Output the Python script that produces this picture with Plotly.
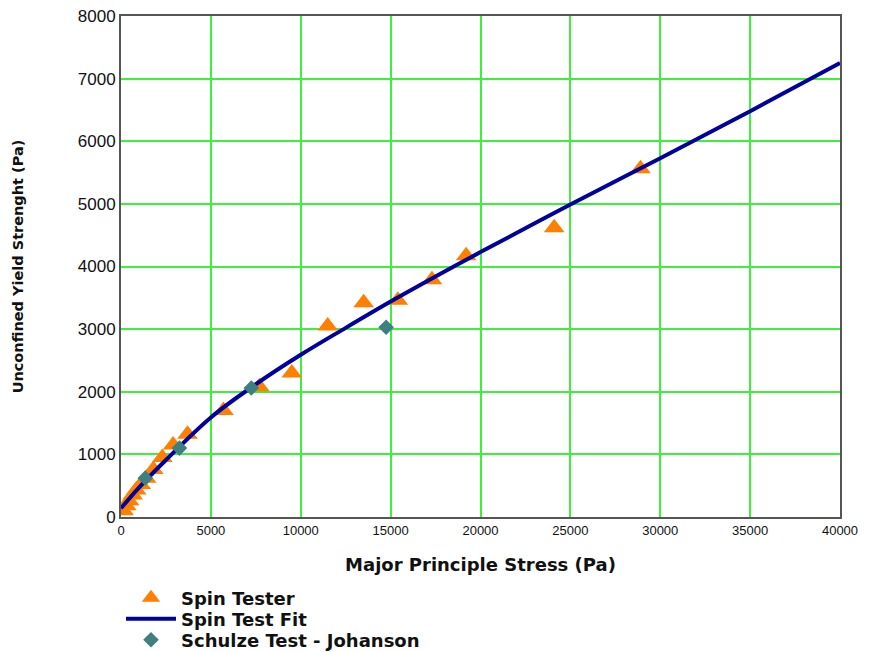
import plotly.graph_objects as go

# Spin Tester points
spin_x = [150, 300, 450, 650, 850, 1100, 1400, 1800, 2300, 2900, 3700, 5700, 7700,
          9500, 11500, 13500, 15400, 17300, 19200, 24100, 28900]
spin_y = [100, 180, 260, 350, 430, 520, 620, 760, 950, 1150, 1320, 1700, 2080,
          2300, 3050, 3420, 3460, 3790, 4170, 4620, 5560]

# Spin Test Fit
fit_x = [0, 1000, 2500, 5000, 7500, 10000, 12500, 15000, 17500, 20000, 25000, 30000, 35000, 40000]
fit_y = [140, 470, 910, 1590, 2120, 2590, 3020, 3440, 3840, 4230, 4990, 5730, 6480, 7250]

# Schulze Test - Johanson
sch_x = [1350, 3250, 7250, 14750]
sch_y = [620, 1100, 2060, 3030]

x_ticks = [0, 5000, 10000, 15000, 20000, 25000, 30000, 35000, 40000]
y_ticks = [0, 1000, 2000, 3000, 4000, 5000, 6000, 7000, 8000]

TICKFONT = "Liberation Sans, Arial, sans-serif"
BOLD = "DejaVu Sans, Verdana, sans-serif"
TXT = "#111111"

# the page body adds an 8px offset, so the figure is sized to fit the window
W, H = 865, 644
OFF = 8

fig = go.Figure()
fig.add_trace(go.Scatter(
    x=spin_x, y=spin_y, mode="markers", name="<b>Spin Tester</b>", legend="legend",
    marker=dict(symbol="triangle-up", size=18, color="#FF8000", line=dict(width=0))))
fig.add_trace(go.Scatter(
    x=fit_x, y=fit_y, mode="lines", name="<b>Spin Test Fit</b>", legend="legend2",
    line=dict(color="#00009C", width=4, shape="spline")))
fig.add_trace(go.Scatter(
    x=sch_x, y=sch_y, mode="markers", name="<b>Schulze Test - Johanson</b>", legend="legend3",
    marker=dict(symbol="diamond", size=12, color="#3F7F7F", line=dict(width=0))))

axis_common = dict(
    showgrid=True, gridcolor="#3CF03C", gridwidth=2,
    showline=True, linecolor="#555555", linewidth=2, mirror=True,
    zeroline=False, ticks="", automargin=False, ticklabeloverflow="allow",
)

def leg(ypix):
    return dict(x=0, xref="paper", xanchor="left",
                y=1 - (ypix - OFF) / H, yref="container", yanchor="middle",
                bgcolor="rgba(0,0,0,0)", itemwidth=50,
                font=dict(family=BOLD, size=18, color=TXT))

fig.update_layout(
    width=W, height=H,
    margin=dict(l=121 - OFF, r=W - (840 - OFF), t=16 - OFF, b=H - (517 - OFF)),
    paper_bgcolor="white", plot_bgcolor="white",
    font=dict(family=TICKFONT, color=TXT),
    xaxis=dict(range=[0, 40000], tickvals=x_ticks,
               ticktext=[str(v) for v in x_ticks],
               tickfont=dict(family=TICKFONT, size=13, color=TXT),
               title=dict(text="<b>Major Principle Stress (Pa)</b>",
                          font=dict(family=BOLD, size=18, color=TXT),
                          standoff=22),
               **axis_common),
    yaxis=dict(range=[0, 8000], tickvals=y_ticks,
               ticktext=[str(v) for v in y_ticks],
               tickfont=dict(family=TICKFONT, size=17, color=TXT),
               title=dict(text="<b>Unconfined Yield Strenght (Pa)</b>",
                          font=dict(family=BOLD, size=14.5, color=TXT),
                          standoff=51),
               **axis_common),
    legend=leg(598),
    legend2=leg(619),
    legend3=leg(640),
    showlegend=True,
)

fig.write_html("out.html")
